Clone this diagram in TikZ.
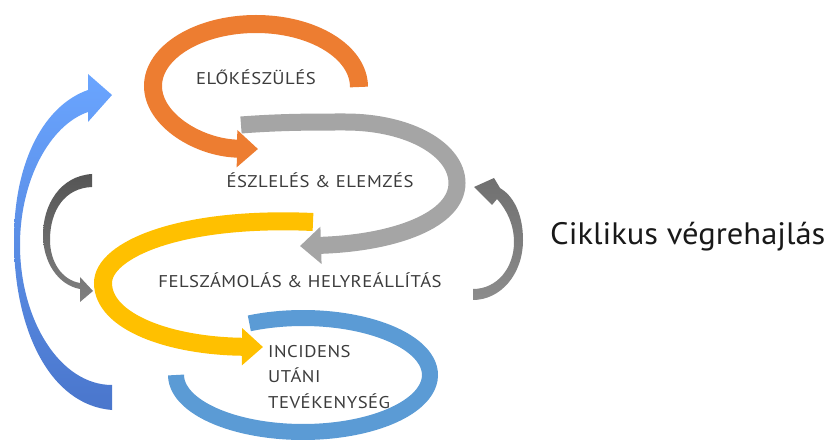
\documentclass[tikz,border=0pt]{standalone}
\usepackage{fontspec}
\setmainfont{PT Sans}
\newfontfamily\lblfont{PT Sans}[FakeStretch=1.1,LetterSpace=3]
\newfontfamily\bigfont{PT Sans}[FakeStretch=1.05]
\usetikzlibrary{arrows.meta}
\definecolor{corange}{HTML}{ED7D31}
\definecolor{cgray}{HTML}{A5A5A5}
\definecolor{cyellow}{HTML}{FFC000}
\definecolor{cblue}{HTML}{5B9BD5}
\definecolor{cblueA}{HTML}{6AA5FF}
\definecolor{cblueB}{HTML}{4A76CC}
\definecolor{cdgA}{HTML}{555555}
\definecolor{cdgB}{HTML}{808080}
\definecolor{crgA}{HTML}{707070}
\definecolor{crgB}{HTML}{8C8C8C}
\definecolor{ctext}{HTML}{3C3C3C}
\begin{document}
\begin{tikzpicture}[x=1pt,y=-1pt,
  band/.style={line width=18pt},
  tipbig/.style={-{Triangle[length=21pt,width=36pt]}},
  lbl/.style={text=ctext,font=\lblfont\fontsize{17}{20}\selectfont,inner sep=0pt},
  big/.style={text=black!90,font=\bigfont\fontsize{31}{36}\selectfont,inner sep=0pt}]
\useasboundingbox (0,0) rectangle (825,446);
% blue ring
\draw[cblue,line width=16pt] plot[domain=0:295,samples=80,smooth]
  ({303+127*cos(115-\x)},{375-57*sin(115-\x)});
% yellow
\draw[cyellow,band,tipbig] (313,222) .. controls (180,216) and (103,250) .. (103,283)
  .. controls (103,322) and (170,346) .. (263,347);
% gray
\draw[cgray,line width=17pt,tipbig] (241,125) .. controls (280,122) and (310,122) .. (345,122)
  .. controls (410,122) and (457,150) .. (457,183)
  .. controls (457,220) and (395,243) .. (300,246);
% orange
\draw[corange,band,tipbig] (359,87) .. controls (359,52) and (313,24) .. (256,24)
  .. controls (199,24) and (153,52) .. (153,86)
  .. controls (153,120) and (199,148) .. (258,149);
% blue left swoosh
\shade[top color=cblueA,bottom color=cblueB]
  (112,410) .. controls (50,405) and (14,330) .. (14,240)
  .. controls (14,160) and (45,105) .. (88,90) -- (88,74) -- (112,95) -- (88,122) -- (88,112)
  .. controls (50,125) and (20,180) .. (20,245)
  .. controls (20,320) and (60,385) .. (112,385) -- cycle;
% dark gray left small arrow
\shade[top color=cdgA,bottom color=cdgB]
  (92,174) .. controls (60,176) and (43,205) .. (43,235)
  .. controls (43,262) and (58,285) .. (80,289) -- (80,302) -- (93,291) -- (80,277) -- (80,283)
  .. controls (62,280) and (50,262) .. (50,240)
  .. controls (50,210) and (65,188) .. (92,187) -- cycle;
% right gray small arrow
\shade[top color=crgA,bottom color=crgB]
  (473,300) .. controls (500,300) and (523,275) .. (523,240)
  .. controls (523,212) and (512,195) .. (500,188) -- (494,178) -- (474,187) -- (492,205) -- (497,199)
  .. controls (507,210) and (514,225) .. (514,242)
  .. controls (514,268) and (497,289) .. (473,289) -- cycle;
% labels
\node[lbl,anchor=base] (prep) at (256,85) {ELŐKÉSZÜLÉS};
\node[lbl,anchor=base] (det) at (320,188) {ÉSZLELÉS \& ELEMZÉS};
\node[lbl,anchor=base] (rec) at (300,288) {FELSZÁMOLÁS \& HELYREÁLLÍTÁS};
\node[lbl,anchor=base west] (post1) at (268,358) {INCIDENS};
\node[lbl,anchor=base west] (post2) at (268,383) {UTÁNI};
\node[lbl,anchor=base west] (post3) at (268,408) {TEVÉKENYSÉG};
\node[big,anchor=base west] (cyc) at (550,245) {Ciklikus végrehajlás};
\end{tikzpicture}
\end{document}
